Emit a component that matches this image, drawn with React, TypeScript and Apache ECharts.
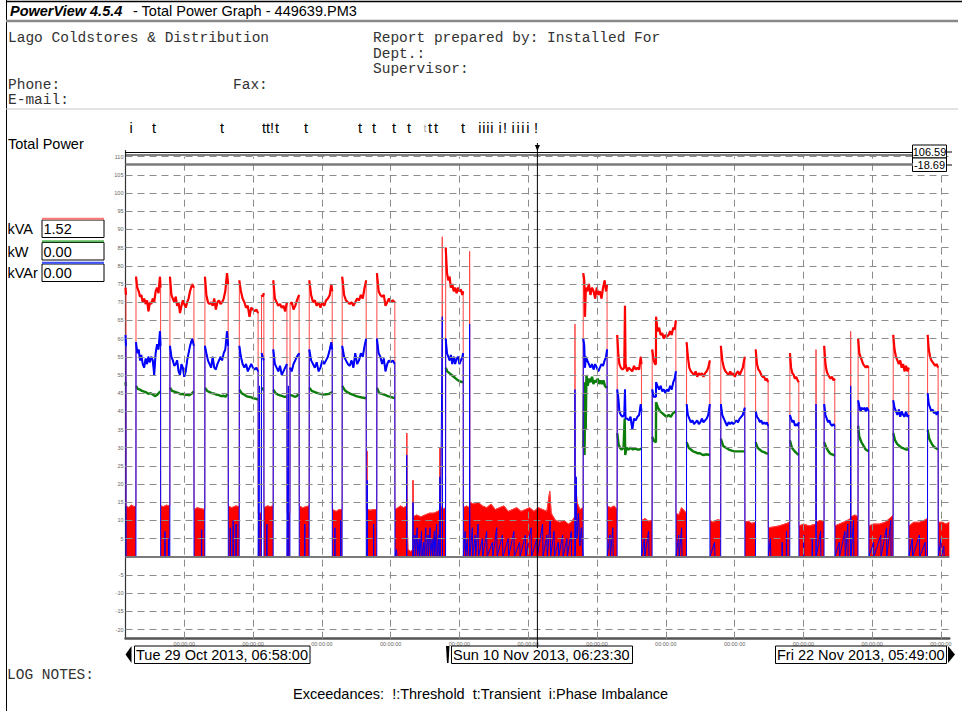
import React, { useEffect, useRef } from 'react';
import * as echarts from 'echarts';

// hours counted from Tue 29 Oct 2013 00:00
const START_H = 6 + 58 / 60;
const END_H = 24 * 24 + 5 + 49 / 60;
const CURSOR_H = 12 * 24 + 6 + 23.5 / 60;

const dayTicksH = [48, 96, 144, 192, 240, 288, 336, 384, 432, 480, 528, 576];
const dayTickLabel = '00:00:00';
const yTicks = [-20, -15, -10, -5, 5, 10, 15, 20, 25, 30, 35, 40, 45, 50, 55, 60, 65, 70, 75, 80, 85, 90, 95, 100, 105, 110];

const cursorMax = '106.59';
const cursorMin = '-18.69';
const liveNames = ['kVA', 'kW', 'kVAr'];
const liveValues = ['1.52', '0.00', '0.00'];
const dateLabels = ['Tue 29 Oct 2013, 06:58:00', 'Sun 10 Nov 2013, 06:23:30', 'Fri 22 Nov 2013, 05:49:00'];

const eventMarks: [number, string][] = [
  [10.8, 'i'], [26.9, 't'], [74.3, 't'],
  [103.6, 't'], [106.4, 't'], [109.2, '!'], [112.7, 't'],
  [132.9, 't'], [170.6, 't'], [180.4, 't'], [194.3, 't'], [204.8, 't'],
  [219.5, 't'], [223.7, 't'], [242.5, 't'],
  [254.3, 'i'], [257.1, 'i'], [259.9, 'i'], [262.7, 'i'], [268.3, 'i'], [271.8, '!'],
  [277.4, 'i'], [280.9, 'i'], [284.3, 'i'], [287.8, 'i'], [293.4, '!'],
];
const faintMarks: [number, string][] = [[216.0, 't']];

// kVA (red)
const kvaPts: number[][] = [
  [6.97, 74], [7.3, 72],
  [7.35, 14], [9, 13.6], [11, 14.2], [13, 13.8], [14.25, 14],
  [14.3, 77], [15.2, 74], [16.2, 73], [17.1, 71.5], [18.0, 72], [19.0, 70], [20.0, 71], [21.0, 69.5], [22.0, 70.5], [23.0, 67.5], [24.0, 70], [25.0, 69.5], [26.0, 71], [27.0, 70], [28.0, 73], [29.0, 74], [30.0, 72.5], [31.0, 77], [31.45, 74],
  [31.5, 14], [33.5, 13.8], [35.5, 14.2], [37.9, 14],
  [38.0, 77], [39, 72], [40, 71], [41, 70], [42, 71.5], [43, 69], [44, 70], [45, 67], [46, 69], [47, 70.5], [48, 69.5], [49, 68.5], [50, 70], [51, 71], [52, 73], [53.5, 75], [54.7, 74],
  [54.8, 13], [57, 13.5], [60, 13.2], [62.3, 13],
  [62.4, 77], [63.4, 72], [64.5, 70], [65.6, 69.5], [66.7, 70], [67.8, 69], [68.9, 71], [70, 68], [71.1, 70], [72.2, 70.5], [73.3, 69.5], [74.4, 70], [75.5, 71], [76.6, 73], [77.8, 78], [78.6, 75],
  [78.7, 14], [81, 13.5], [84, 14], [86.3, 13.8],
  [86.4, 76], [87.5, 73], [88.7, 71], [89.9, 70], [91.1, 68.5], [92.3, 69], [93.5, 66], [94.7, 68.5], [95.9, 68], [97.1, 67.5], [98.3, 68], [99.5, 67],
  [99.6, 12], [101.8, 12],
  [101.9, 72], [102.7, 71.5], [103.5, 72.5],
  [103.6, 13.5], [106, 14], [108, 13.8], [110, 14],
  [110.1, 76], [111.2, 71], [112.4, 70], [113.6, 69], [114.8, 69.5], [116, 68.5], [117.2, 69], [118.4, 67.5], [119.6, 70],
  [119.7, 12], [121.7, 12],
  [121.8, 69.5], [123, 70], [124.2, 68], [125.4, 69], [126.6, 70.5], [128.1, 72],
  [128.2, 14], [130.5, 13.5], [133, 13.8], [135.1, 14],
  [135.2, 76], [136.5, 72], [137.8, 70], [139.1, 70.5], [140.4, 69], [141.7, 70], [143, 68.5], [144.3, 70], [145.6, 69], [146.9, 70.5], [148.2, 71], [149.5, 72], [150.6, 75], [151.2, 73],
  [151.3, 13], [154, 12.5], [156, 13], [158.1, 13],
  [158.2, 77], [159.5, 72], [160.8, 70.5], [162.1, 70], [163.4, 69.5], [164.7, 70], [166, 69], [167.3, 70], [168.6, 71], [169.9, 70.5], [171.2, 72], [172.5, 71], [173.8, 74], [174.9, 76],
  [175.0, 13], [175.6, 13], [175.7, 29], [175.8, 13], [178, 12.8], [180, 13], [182.3, 13],
  [182.4, 78], [183.6, 73], [184.8, 72], [186, 71.5], [187.2, 72], [188.4, 69], [189.6, 70], [190.8, 71], [192, 70], [193.5, 70.5], [194.9, 70],
  [195.0, 13], [197, 13.5], [199, 14], [201, 13.5], [203.1, 14], [203.2, 34], [203.4, 12], [204, 2], [206, 1.5], [207.5, 2], [207.6, 21], [207.8, 11], [210, 11.5], [213, 11], [216, 11.5], [219, 12], [222, 12], [225, 12.5], [226.3, 13], [226.4, 30], [226.6, 14], [227.9, 13.5], [228.0, 88], [228.2, 13], [230.3, 13.5],
  [230.4, 85], [231.3, 78], [232.2, 76], [233.1, 77], [234, 74], [235, 75], [236, 73], [237, 74], [238, 72.5], [239, 74], [240, 73], [241, 73.5], [242, 72], [242.6, 73],
  [242.7, 13.5], [245, 14], [247.0, 13.5], [247.1, 84], [247.3, 15],
  [250, 14.5], [253, 15], [256, 14], [259, 13.5], [262, 14.5], [265, 13], [268, 13.5], [271, 14], [274, 12.5], [277, 13], [280, 13.5], [283, 12.5], [286, 13], [289, 13.5], [292, 12.5], [295, 13.5], [298, 13], [301, 12.5], [303, 18], [304, 12], [307, 10], [310, 9.5], [313, 10], [316, 9], [318, 9.5], [320.5, 11], [320.6, 64], [320.8, 23], [322, 15], [324, 13], [326.3, 13.5],
  [326.4, 78], [327.1, 76], [327.6, 66], [328.2, 74], [329.2, 73], [330.3, 75], [331.4, 72], [332.5, 74], [333.6, 73], [334.7, 71], [335.8, 74], [336.9, 72], [338, 73], [339.1, 71], [340.2, 74], [341.3, 76], [342.3, 73], [343.0, 75],
  [343.1, 14], [345.5, 13.5], [348, 14], [350.0, 13],
  [350.1, 61], [350.8, 56], [351.6, 53], [352.6, 52], [353.8, 51.5], [355.0, 52], [355.5, 69], [355.9, 53], [357, 51], [358.2, 52], [359.4, 51.5], [360.6, 51], [361.8, 52.5], [363, 51.5], [364.2, 52], [365.4, 51.5], [366.5, 55], [367.0, 53],
  [367.1, 10], [369.5, 10.5], [372, 9.8], [374.4, 10],
  [374.5, 57], [375.5, 54], [376.5, 53], [377.1, 53], [377.2, 66], [378.2, 62], [379.3, 63], [380.4, 61], [381.5, 61.5], [382.6, 60], [383.7, 61], [384.8, 60.5], [385.9, 61], [387, 62], [388.1, 61], [389.2, 63], [390.2, 62.5], [391.0, 65],
  [391.1, 12], [393, 11.5], [395, 13.5], [398.4, 12],
  [398.5, 59], [399.4, 55], [400.4, 52], [401.5, 51], [402.6, 50.5], [403.7, 50], [404.8, 51], [405.9, 49.5], [407, 50.5], [408.1, 50], [409.2, 50.5], [410.3, 49.5], [411.4, 50.5], [412.5, 51], [413.6, 52], [414.7, 54],
  [414.8, 10], [417, 9.5], [420, 10.2], [422.3, 10],
  [422.4, 58], [423.4, 54], [424.5, 52], [425.6, 51], [426.7, 50.5], [427.8, 50], [428.9, 51], [430, 50], [431.1, 50.5], [432.2, 49.5], [433.3, 50.5], [434.4, 51], [435.5, 50], [436.6, 51], [437.7, 52], [439.1, 55],
  [439.2, 9.5], [441.5, 9.8], [444, 9.2], [446.6, 9.5],
  [446.7, 57], [447.6, 53], [448.6, 51.5], [449.6, 51], [450.6, 50], [451.6, 49.5], [452.6, 49.5], [453.6, 48.5], [454.5, 49], [455.4, 48],
  [455.5, 8], [459, 8.2], [463, 8.5], [467, 9], [470.5, 9.5],
  [470.6, 56], [471.4, 52], [472.3, 50.5], [473.2, 50], [474.1, 49], [475, 49.5], [476, 48.5], [476.8, 48],
  [476.9, 8.5], [480, 9], [484, 8.5], [488.7, 9],
  [488.8, 57], [489, 9.5], [491.5, 10], [494.4, 9.8],
  [494.5, 58], [495.4, 53], [496.3, 51], [497.2, 50], [498.1, 49.5], [499, 49], [500, 49.5], [501, 48.5], [501.9, 49],
  [502.0, 8.5], [505, 9], [508, 9.5], [510.5, 10], [512.9, 10.5], [513.0, 62], [513.2, 11], [516, 11.5], [518.1, 11],
  [518.2, 60], [519, 56], [519.9, 55], [520.8, 54], [521.7, 53], [522.6, 52.5], [523.5, 52], [524.4, 52.5], [525.6, 52],
  [525.7, 8.5], [529, 9], [533, 9], [537, 9.5], [540, 10.5], [542.6, 11.5],
  [542.7, 61], [543.6, 57], [544.6, 55], [545.6, 54], [546.6, 53], [547.6, 54], [548.6, 52], [549.6, 53], [550.6, 51], [551.6, 52.5], [552.6, 51], [553.5, 52],
  [553.6, 8.5], [557, 9.5], [561, 9.5], [564, 10], [566.6, 10.5],
  [566.7, 61], [567.5, 57], [568.4, 55], [569.3, 54], [570.2, 53.5], [571.1, 53], [572, 52.5], [573, 53], [574, 52],
  [574.1, 9.5], [577, 9.5], [579.5, 9], [581.8, 9.5],
];

// kVAr (blue)
const kvarPts: number[][] = [
  [6.97, 61], [7.3, 58], [7.35, 0], [14.25, 0],
  [14.3, 59], [15.2, 56], [16.2, 57], [17.1, 54], [18.0, 55.5], [19, 53], [20, 52], [21, 54.5], [22, 53], [23, 55], [24, 53.5], [25, 55], [26, 54], [27, 50], [28, 56], [29, 58.5], [30, 57], [31, 62], [31.45, 58],
  [31.5, 0], [34.4, 0], [34.5, 7], [34.6, 0], [37, 0], [37.1, 5], [37.2, 0], [37.9, 0],
  [38.0, 58], [39, 55], [40, 54], [41, 52.5], [42, 53], [43, 54], [44, 51], [45, 50], [46, 53], [47, 52], [48, 49.5], [49, 51], [50, 54], [51, 56], [52, 58], [53.5, 60], [54.7, 58],
  [54.8, 0], [60, 0], [60.1, 7.5], [60.2, 0], [62.3, 0],
  [62.4, 58], [63.4, 56], [64.5, 54], [65.6, 53], [66.7, 52], [67.8, 55], [68.9, 52], [70, 51.5], [71.1, 53], [72.2, 54], [73.3, 55], [74.4, 54], [75.5, 56], [76.6, 57], [77.8, 62], [78.6, 58],
  [78.7, 0], [80, 0], [80.1, 8], [80.2, 0], [82, 0], [82.1, 10], [82.2, 0], [84, 0], [84.1, 9], [84.2, 0], [86.3, 0],
  [86.4, 58], [87.5, 55], [88.7, 53], [89.9, 52], [91.1, 53], [92.3, 51], [93.5, 52], [94.7, 53], [95.9, 52], [97.1, 51.5], [98.3, 52], [99.5, 51],
  [99.6, 0], [100.5, 47], [100.7, 0], [101.8, 0],
  [101.9, 56], [102.7, 55], [103.5, 54],
  [103.6, 0], [105.5, 0], [105.6, 9], [105.7, 0], [110, 0],
  [110.1, 57], [111.2, 53], [112.4, 52], [113.6, 51], [114.8, 52.5], [116, 50], [117.2, 51], [118.4, 52], [119.6, 53],
  [119.7, 0], [120.6, 47], [120.8, 0], [121.7, 0],
  [121.8, 52], [123, 51], [124.2, 53], [125.4, 54], [126.6, 55], [128.1, 56],
  [128.2, 0], [132, 0], [132.1, 9], [132.2, 0], [135.1, 0],
  [135.2, 57], [136.5, 54], [137.8, 53], [139.1, 52], [140.4, 53.5], [141.7, 51], [143, 52], [144.3, 54], [145.6, 53], [146.9, 54], [148.2, 55], [149.5, 57], [150.6, 59], [151.2, 57],
  [151.3, 0], [153, 0], [153.1, 8], [153.2, 0], [157, 0], [157.1, 10], [157.2, 0], [158.1, 0],
  [158.2, 58], [159.5, 55], [160.8, 54], [162.1, 53], [163.4, 52.5], [164.7, 54], [166, 52], [167.3, 56], [168.6, 53], [169.9, 54], [171.2, 56], [172.5, 55], [173.8, 58], [174.9, 60],
  [175.0, 0], [175.6, 0], [175.7, 21], [175.8, 0], [180, 0], [180.1, 9], [180.2, 0], [182.3, 0],
  [182.4, 60], [183.6, 56], [184.8, 55], [186, 53], [187.2, 54.5], [188.4, 51], [189.6, 53], [190.8, 54], [192, 53.5], [193.5, 54], [194.9, 53],
  [195.0, 0], [196, 2], [196.5, 0], [203.1, 0], [203.2, 28], [203.3, 0], [207.5, 0], [207.6, 15], [207.7, 0], [209, 6], [209.3, 0], [210.5, 8], [210.8, 0], [212, 5], [212.3, 0], [213.5, 7], [213.8, 0], [215, 4], [215.3, 0], [216.5, 8], [216.8, 0], [218, 6], [218.3, 0], [219.5, 8], [219.8, 0], [221, 5], [221.3, 0], [222.5, 7], [222.8, 0], [224, 9], [224.3, 0], [225.5, 6], [225.8, 0], [226.4, 22], [226.6, 0], [228.0, 66], [228.2, 0], [230.3, 0],
  [230.4, 60], [231.3, 56], [232.2, 55], [233.1, 54], [234, 55.5], [235, 53], [236, 55], [237, 53], [238, 54.5], [239, 55], [240, 53], [241, 54], [242, 55], [242.6, 56],
  [242.7, 0], [244, 7], [244.3, 0], [245.5, 5], [245.8, 0], [247.0, 0], [247.1, 64], [247.3, 0],
  [249, 8], [249.3, 0], [251, 6], [251.3, 0], [253, 9], [253.3, 0], [256, 5], [256.3, 0], [259, 7], [259.3, 0], [263, 4], [263.3, 0], [266, 8], [266.3, 0], [270, 6], [270.3, 0], [274, 5], [274.3, 0], [278, 7], [278.3, 0], [282, 4], [282.3, 0], [286, 6], [286.3, 0], [290, 8], [290.3, 0], [294, 5], [294.3, 0], [298, 9], [298.3, 0], [301, 6], [301.3, 0], [303.3, 10], [303.6, 0], [306, 7], [306.3, 0], [309, 4], [309.3, 0], [312, 6], [312.3, 0], [315, 5], [315.3, 0], [318, 7], [318.3, 0], [320.5, 0], [320.6, 46], [320.8, 0], [321.5, 22], [322, 5], [323, 12], [324, 3], [325, 8], [326.3, 0],
  [326.4, 60], [327.1, 58], [327.6, 52], [328.2, 55], [329.2, 54], [330.3, 53], [331.4, 52], [332.5, 53], [333.6, 51.5], [334.7, 53], [335.8, 52], [336.9, 51], [338, 52], [339.1, 53], [340.2, 52.5], [341.3, 54], [342.3, 55], [343.0, 57],
  [343.1, 0], [345, 6], [345.3, 0], [347, 8], [347.3, 0], [350.0, 0],
  [350.1, 46], [350.8, 44], [351.6, 40], [352.6, 39], [353.8, 38.5], [355.0, 39], [355.5, 46], [355.9, 38], [357, 38], [358.2, 37.5], [359.4, 38.5], [360.6, 35], [361.8, 38], [363, 37.5], [364.2, 38.5], [365.4, 39], [366.5, 42], [367.0, 40],
  [367.1, 0], [369, 5], [369.3, 0], [372, 7], [372.3, 0], [374.4, 0],
  [374.5, 46], [375.5, 44], [376.5, 44], [377.1, 44], [377.2, 48], [378.2, 47], [379.3, 46], [380.4, 47], [381.5, 45.5], [382.6, 46], [383.7, 45], [384.8, 46], [385.9, 45.5], [387, 47], [388.1, 46], [389.2, 48], [390.2, 49], [391.0, 51],
  [391.1, 0], [393, 6], [393.3, 0], [395, 8], [395.3, 0], [398.4, 0],
  [398.5, 42], [399.4, 39], [400.4, 38], [401.5, 37], [402.6, 37.5], [403.7, 36.5], [404.8, 37], [405.9, 37.5], [407, 36.5], [408.1, 37], [409.2, 38], [410.3, 37], [411.4, 37.5], [412.5, 38], [413.6, 39], [414.7, 42],
  [414.8, 0], [418, 4], [418.3, 0], [422.3, 0],
  [422.4, 42], [423.4, 39], [424.5, 38], [425.6, 37], [426.7, 36], [427.8, 37], [428.9, 36.5], [430, 37], [431.1, 36.5], [432.2, 37], [433.3, 37.5], [434.4, 37], [435.5, 38], [436.6, 38.5], [437.7, 39], [439.1, 41],
  [439.2, 0], [446.6, 0],
  [446.7, 40], [447.6, 38.5], [448.6, 38], [449.6, 37], [450.6, 37.5], [451.6, 36.5], [452.6, 37], [453.6, 36.5], [454.5, 37], [455.4, 36],
  [455.5, 0], [457, 5], [457.3, 0], [465, 0], [465.2, 4], [465.4, 0], [468, 0], [468.2, 7], [468.4, 0], [470.5, 0],
  [470.6, 39], [471.4, 38], [472.3, 37], [473.2, 37.5], [474.1, 36], [475, 36.5], [476, 36], [476.8, 37],
  [476.9, 0], [480, 0], [480.2, 6], [480.4, 0], [486, 0], [486.2, 5], [486.4, 0], [488.7, 0], [488.8, 42], [489, 0], [492, 7], [492.2, 0], [494.4, 0],
  [494.5, 42], [495.4, 39], [496.3, 38], [497.2, 37], [498.1, 37.5], [499, 36.5], [500, 36], [501, 36.5], [501.9, 36],
  [502.0, 0], [505, 4], [505.2, 0], [509, 7], [509.2, 0], [511, 9], [511.2, 0], [512.9, 0], [513.0, 47], [513.2, 0], [515, 10], [515.2, 0], [518.1, 0],
  [518.2, 43], [519, 41.5], [519.9, 40], [520.8, 41], [521.7, 40.5], [522.6, 41], [523.5, 40], [524.4, 41], [525.6, 40],
  [525.7, 0], [529, 4], [529.2, 0], [534, 6], [534.2, 0], [538, 8], [538.2, 0], [541, 10], [541.2, 0], [542.6, 0],
  [542.7, 43], [543.6, 41], [544.6, 40], [545.6, 39], [546.6, 40.5], [547.6, 38.5], [548.6, 40], [549.6, 39], [550.6, 38.5], [551.6, 40], [552.6, 38.5], [553.5, 39],
  [553.6, 0], [556, 5], [556.2, 0], [561, 6], [561.2, 0], [565, 4], [565.2, 0], [566.6, 0],
  [566.7, 45], [567.5, 42], [568.4, 41], [569.3, 40], [570.2, 40.5], [571.1, 39.5], [572, 40], [573, 39], [574, 40],
  [574.1, 0], [576, 5], [576.2, 0], [578, 3], [578.2, 0], [581.8, 0],
];

// kW (green)
const kwPts: number[][] = [
  [6.97, 48], [7.3, 47], [7.35, 0], [14.25, 0],
  [14.3, 47], [15.5, 46.2], [17, 46], [18.5, 45.6], [20, 45.4], [21.5, 45.2], [23, 44.8], [24.5, 45], [26, 44.6], [27.5, 44.2], [29, 44.5], [30.5, 45.2], [31.45, 45.5],
  [31.5, 0], [37.9, 0],
  [38.0, 46.5], [39.5, 45.6], [41, 45.4], [42.5, 45.2], [44, 45], [45.5, 44.7], [47, 44.8], [48.5, 44.5], [50, 44.6], [51.5, 44.4], [53, 44.8], [54.7, 45.5],
  [54.8, 0], [62.3, 0],
  [62.4, 46.5], [64, 45.6], [65.6, 45.3], [67.2, 45], [68.8, 44.9], [70.4, 44.6], [72, 44.5], [73.6, 44.2], [75.2, 44.3], [76.8, 44], [78.6, 45],
  [78.7, 0], [86.3, 0],
  [86.4, 46], [88, 45], [89.6, 44.6], [91.2, 44.2], [92.8, 44], [94.4, 43.9], [96, 43.6], [97.6, 43.5], [99.5, 43.2],
  [99.6, 0], [101.8, 0], [101.9, 46.5], [102.8, 46], [103.5, 46],
  [103.6, 0], [110, 0],
  [110.1, 46], [111.7, 45], [113.3, 44.6], [114.9, 44.4], [116.5, 44.2], [118, 44], [119.6, 44],
  [119.7, 0], [121.7, 0],
  [121.8, 44.5], [123.5, 44.3], [125, 44], [126.6, 44.2], [128.1, 45],
  [128.2, 0], [135.1, 0],
  [135.2, 46.5], [137, 45.6], [139, 45.3], [141, 45], [143, 44.8], [145, 44.6], [147, 44.7], [149, 44.8], [151.2, 45.3],
  [151.3, 0], [158.1, 0],
  [158.2, 47], [160, 45.8], [162, 45.2], [164, 44.8], [166, 44.5], [168, 44.2], [170, 44], [172, 43.8], [174.9, 43.6],
  [175, 0], [182.3, 0],
  [182.4, 46.5], [184, 45], [186, 44.8], [188, 44.5], [190, 44.2], [192, 44], [194.9, 43.6],
  [195, 0], [230.3, 0],
  [230.4, 52], [231.5, 51], [233, 50.5], [234.5, 50], [236, 49.5], [237.5, 49], [239, 48.5], [240.5, 48.2], [242.6, 48],
  [242.7, 0], [326.3, 0],
  [326.4, 30], [326.9, 45], [327.3, 28], [327.7, 48], [328.1, 35], [328.6, 50], [329.5, 47], [330.5, 49], [331.5, 48], [332.5, 49.5], [333.5, 47.5], [334.5, 48.5], [335.5, 48], [336.5, 49], [337.5, 47.5], [338.5, 48.5], [339.5, 47.5], [340.5, 48.5], [341.5, 47], [342.5, 46.5], [343, 47],
  [343.1, 0], [350, 0],
  [350.1, 34], [351, 31], [352, 30], [353, 29.5], [354.5, 30], [355.3, 38], [355.7, 28], [356.5, 30], [358, 29.5], [359.5, 30], [361, 29.5], [362.5, 29.8], [364, 29.5], [365.5, 29.5], [367, 29.8],
  [367.1, 0], [374.4, 0],
  [374.5, 33], [375.5, 32], [377.1, 31.5], [377.2, 42.5], [378.5, 41], [380, 40], [381.5, 39.5], [383, 39], [384.5, 38.5], [386, 39], [387.5, 38.5], [389, 39.5], [391, 40],
  [391.1, 0], [398.4, 0],
  [398.5, 31.5], [400, 30], [401.5, 29.5], [403, 29], [404.5, 28.8], [406, 28.5], [407.5, 28.5], [409, 28.2], [410.5, 28], [412, 28.2], [414.7, 28],
  [414.8, 0], [422.3, 0],
  [422.4, 32.5], [424, 30.5], [426, 30], [428, 29.5], [430, 29.2], [432, 29], [434, 29], [436, 29], [439.1, 29],
  [439.2, 0], [446.6, 0],
  [446.7, 31.5], [448, 30], [449.5, 29.5], [451, 29], [452.5, 28.8], [454, 28.5], [455.4, 28.3],
  [455.5, 0], [470.5, 0],
  [470.6, 32], [472, 30], [473.5, 29.2], [475, 28.6], [476.8, 28],
  [476.9, 0], [494.4, 0],
  [494.5, 31.5], [496, 30], [497.5, 29], [499, 28.3], [501, 28], [501.9, 27.8],
  [502, 0], [518.1, 0],
  [518.2, 36], [519, 33], [520.5, 31.5], [522, 30.5], [523.5, 29.5], [525.6, 29],
  [525.7, 0], [542.6, 0],
  [542.7, 34], [544, 32], [545.5, 31], [547, 30.5], [548.5, 30], [550, 29.8], [551.5, 29.5], [553.5, 29.5],
  [553.6, 0], [566.6, 0],
  [566.7, 35], [567.8, 32.5], [569, 31.5], [570.5, 30.5], [572, 30], [574, 29.5],
  [574.1, 0], [581.8, 0],
];

const SANS = '"Liberation Sans", Arial, sans-serif';
const MONO = '"Liberation Mono", "Courier New", monospace';

function txt(x: number, y: number, text: string, o: any = {}) {
  return {
    type: 'text', x, y, z: 100, silent: true,
    style: {
      text, fontSize: 14.5, fontFamily: SANS, fill: '#000',
      align: 'left', textAlign: 'left', verticalAlign: 'middle', textVerticalAlign: 'middle', ...o,
    },
  };
}
function ln(x1: number, y1: number, x2: number, y2: number, stroke = '#000', lineWidth = 1) {
  return { type: 'line', z: 100, silent: true, shape: { x1, y1, x2, y2 }, style: { stroke, lineWidth } };
}
function box(x: number, y: number, w: number, h: number) {
  return { type: 'rect', z: 99, silent: true, shape: { x, y, width: w, height: h }, style: { fill: '#fff', stroke: '#000', lineWidth: 1 } };
}
function poly(points: number[][]) {
  return { type: 'polygon', z: 100, silent: true, shape: { points }, style: { fill: '#000' } };
}

function buildGraphics(px: (h: number) => number) {
  const cx = px(CURSOR_H);
  const els: any[] = [
    ln(6.5, 0, 6.5, 711, '#000', 1),
    ln(6, 1.5, 962, 1.5, '#000', 1.5),
    txt(10, 11, 'PowerView 4.5.4', { fontWeight: 'bold', fontStyle: 'italic' }),
    txt(133, 11, '- Total Power Graph - 449639.PM3'),
    ln(6, 21, 958, 21, '#8a8a8a', 2.5),
    txt(8, 38, 'Lago Coldstores & Distribution', { fontFamily: MONO, fill: '#333' }),
    txt(373, 38, 'Report prepared by: Installed For', { fontFamily: MONO, fill: '#333' }),
    txt(373, 54, 'Dept.:', { fontFamily: MONO, fill: '#333' }),
    txt(373, 69, 'Supervisor:', { fontFamily: MONO, fill: '#333' }),
    txt(8, 85, 'Phone:', { fontFamily: MONO, fill: '#333' }),
    txt(233, 85, 'Fax:', { fontFamily: MONO, fill: '#333' }),
    txt(8, 100, 'E-mail:', { fontFamily: MONO, fill: '#333' }),
    ln(6, 109, 958, 109, '#c8c8c8', 1),
    txt(8, 144, 'Total Power'),
    // cursor bands at top
    ln(125.5, 150, 125.5, 157, '#333', 1.2),
    ln(125, 152.5, 913, 152.5, '#000', 1),
    ln(125, 155, 913, 155, '#000', 1),
    ln(125.5, 164.5, 913, 164.5, '#7a7a7a', 2.5),
    box(912.5, 145, 34, 13),
    txt(929.5, 151.5, cursorMax, { fontSize: 11, align: 'center', textAlign: 'center' }),
    box(912.5, 158, 34, 13.5),
    txt(929.5, 165, cursorMin, { fontSize: 11, align: 'center', textAlign: 'center' }),
    ln(946.5, 152, 952, 152, '#000', 1),
    ln(946.5, 165, 952, 165, '#000', 1),
    // cursor
    ln(cx, 143, cx, 648, '#000', 1),
    poly([[cx - 2.5, 145], [cx + 2.5, 145], [cx, 151]]),
    // bottom date boxes
    poly([[131.5, 646], [125.5, 654.5], [131.5, 663]]),
    box(134.5, 646, 175.5, 17.5),
    txt(136, 655, dateLabels[0]),
    poly([[446, 646], [449.5, 646], [448.5, 663], [447, 663]]),
    box(451.5, 646, 181, 17.5),
    txt(453, 655, dateLabels[1]),
    box(775.5, 646, 171, 17.5),
    txt(777, 655, dateLabels[2]),
    poly([[948, 646], [955, 654.5], [948, 663]]),
    txt(7, 675, 'LOG NOTES:', { fontFamily: MONO, fill: '#333' }),
    txt(293, 694, 'Exceedances:  !:Threshold  t:Transient  i:Phase Imbalance'),
  ];
  const liveColors = ['#ff7a7a', '#5cb85c', '#3a50ff'];
  const boxTops = [220, 242.5, 264];
  liveNames.forEach((n, i) => {
    const y0 = boxTops[i];
    els.push(box(42, y0, 62, 17.5));
    els.push(ln(42, y0 - 1.3, 104, y0 - 1.3, liveColors[i], 2));
    els.push(txt(7.5, y0 + 9, n));
    els.push(txt(43.5, y0 + 9, liveValues[i]));
  });
  eventMarks.forEach(([h, s]) => {
    els.push(txt(px(h), 128, s, { align: 'center', textAlign: 'center' }));
  });
  faintMarks.forEach(([h, s]) => {
    els.push(txt(px(h), 128, s, { align: 'center', textAlign: 'center', fill: '#aaa', fontSize: 11 }));
  });
  return els;
}

const lineBase = {
  type: 'line', showSymbol: false, symbol: 'none', connectNulls: false,
  animation: false, silent: true,
};
const onlyAbove = (pts: number[][], cut: number) => pts.map(([h, v]) => [h, v > cut ? v : null]);

export default function App() {
  const ref = useRef<HTMLDivElement>(null);
  useEffect(() => {
    const chart = echarts.init(ref.current as HTMLDivElement, null, { renderer: 'svg' });
    const gridLineStyle = { type: [7, 5], color: '#8c8c8c', width: 1 };
    const tickLabel = { show: true, position: 'start', fontSize: 5.5, color: '#666', distance: 2, fontFamily: SANS };
    chart.setOption({
      animation: false,
      backgroundColor: '#fff',
      grid: { left: 125.5, right: 12.7, top: 156.7, height: 482, containLabel: false, outerBoundsMode: 'none' },
      xAxis: {
        type: 'value', min: START_H, max: END_H,
        axisLine: { show: true, onZero: false, lineStyle: { color: '#555', width: 2.5 } },
        axisTick: { show: false }, axisLabel: { show: false }, splitLine: { show: false },
      },
      yAxis: {
        type: 'value', min: -22.5, max: 110,
        axisLine: { show: true, lineStyle: { color: '#333', width: 1.2 } },
        axisTick: { show: false }, axisLabel: { show: false }, splitLine: { show: false },
      },
      series: [
        {
          ...lineBase, name: 'grid', data: [], z: 1,
          markLine: {
            silent: true, symbol: ['none', 'none'], animation: false,
            lineStyle: gridLineStyle,
            data: [
              ...yTicks.map((v) => ({ yAxis: v, label: { ...tickLabel, formatter: String(v) } })),
              ...dayTicksH.map((h) => ({ xAxis: h, label: { ...tickLabel, formatter: dayTickLabel } })),
            ],
          },
        },
        { ...lineBase, name: 'kW', data: onlyAbove(kwPts, 20), z: 2, lineStyle: { color: '#0a7d0a', width: 2.4 } },
        {
          ...lineBase, name: 'kVA standby', z: 3,
          data: kvaPts.map(([h, v]) => [h, v <= 35 ? v : null]),
          lineStyle: { color: '#ff0000', width: 1 },
          areaStyle: { color: '#ff0000', opacity: 1 },
        },
        { ...lineBase, name: 'kVA', data: kvaPts, z: 3, lineStyle: { color: '#ff4545', width: 1 } },
        { ...lineBase, name: 'kVA band', data: onlyAbove(kvaPts, 35), z: 3, lineStyle: { color: '#ff0000', width: 2.2 } },
        { ...lineBase, name: 'kVAr', data: kvarPts, z: 4, lineStyle: { color: '#0000ff', width: 1 } },
        { ...lineBase, name: 'kVAr band', data: onlyAbove(kvarPts, 30), z: 4, lineStyle: { color: '#0000ff', width: 2 } },
        {
          ...lineBase, name: 'zero', data: [], z: 5,
          markLine: {
            silent: true, symbol: ['none', 'none'], animation: false, label: { show: false },
            lineStyle: { type: 'solid', color: '#7a7a7a', width: 2 },
            data: [{ yAxis: 0 }],
          },
        },
      ],
    });
    const px = (h: number) => chart.convertToPixel({ xAxisIndex: 0 }, h) as number;
    chart.setOption({ graphic: { elements: buildGraphics(px) } });
    return () => chart.dispose();
  }, []);
  return <div ref={ref} style={{ position: 'absolute', left: 0, top: 0, width: 962, height: 711, background: '#fff' }} />;
}
